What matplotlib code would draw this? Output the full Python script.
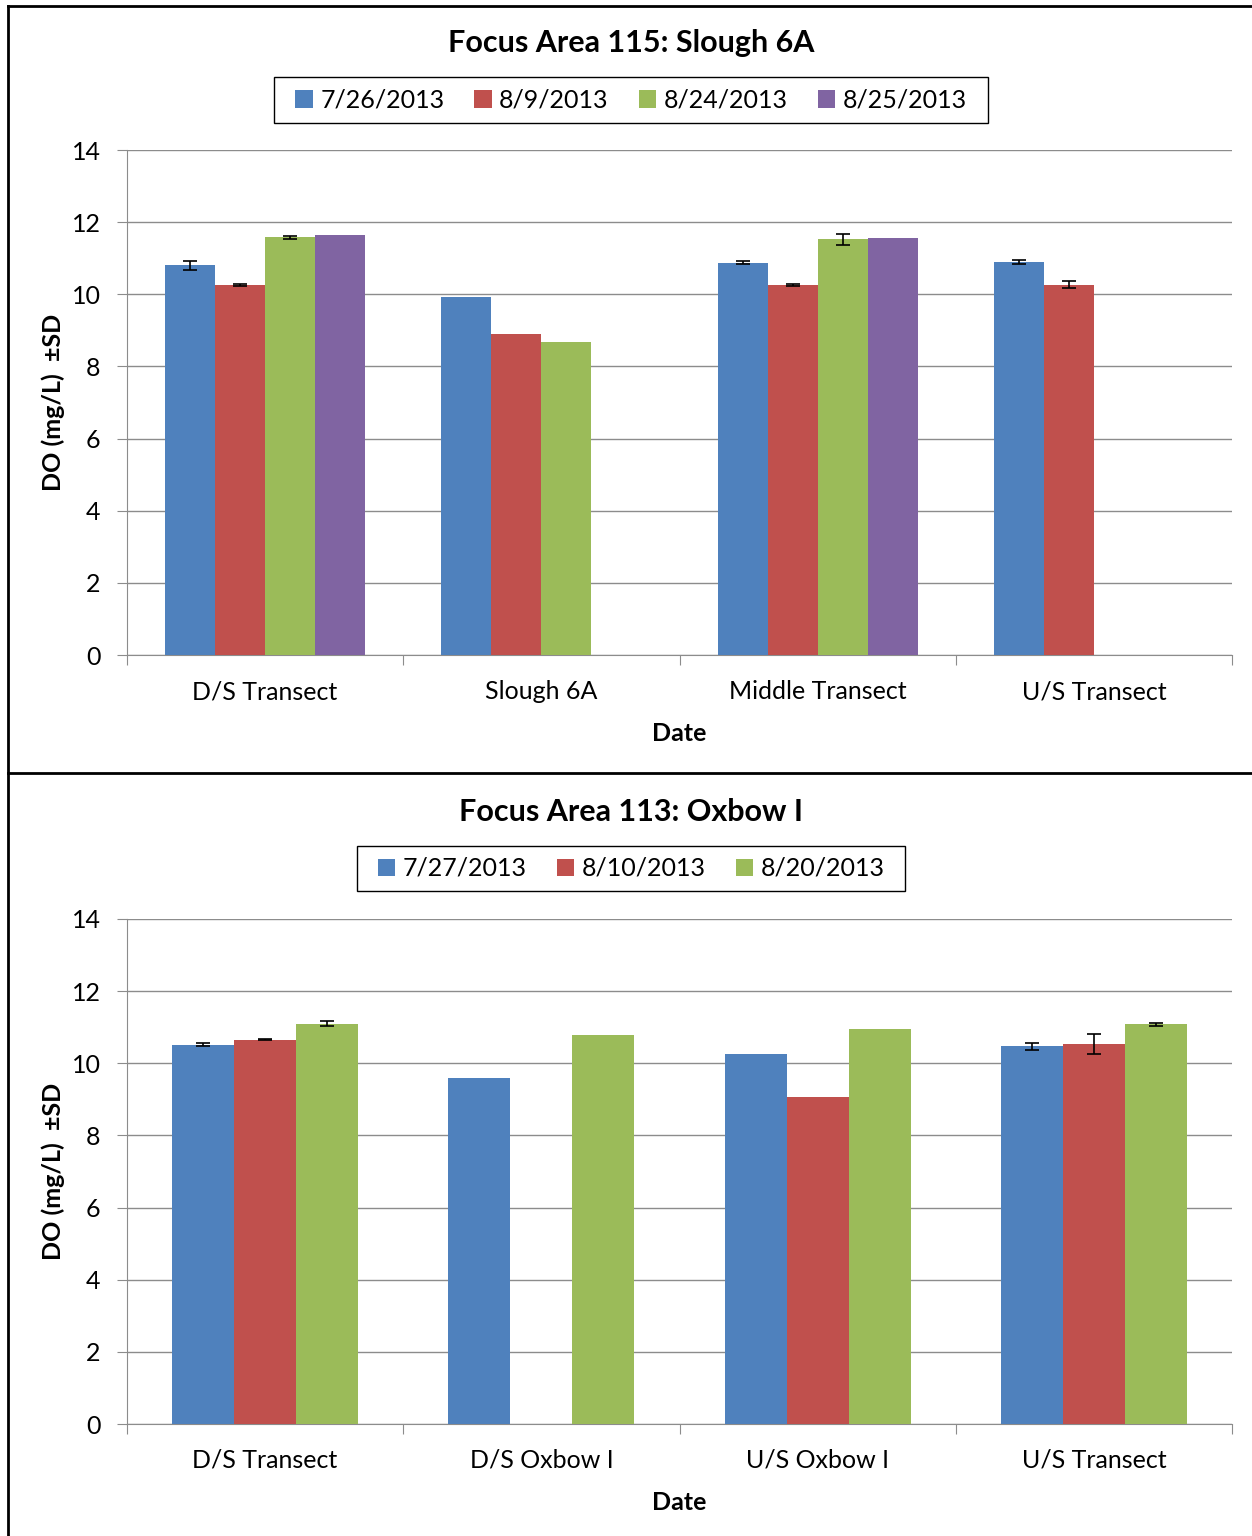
import numpy as np
import matplotlib.pyplot as plt
from matplotlib.lines import Line2D
from matplotlib.patches import Rectangle

plt.rcParams.update({'font.family': "sans-serif",
                     'font.sans-serif': "Lato",
                     'font.size': 16})

# Data input
colors = ["#4F81BD", "#C0504D", "#9BBB59", "#8064A2"]

top_title = "Focus Area 115: Slough 6A"
top_sites = ["D/S Transect", "Slough 6A", "Middle Transect", "U/S Transect"]
top_dates = ["7/26/2013", "8/9/2013", "8/24/2013", "8/25/2013"]
top_means = [
    [10.80, 9.93, 10.88, 10.90],
    [10.26, 8.90, 10.26, 10.27],
    [11.58, 8.68, 11.53, np.nan],
    [11.64, np.nan, 11.56, np.nan],
]
top_sd = [
    [0.13, np.nan, 0.03, 0.06],
    [0.02, np.nan, 0.02, 0.09],
    [0.04, np.nan, 0.15, np.nan],
    [np.nan, np.nan, np.nan, np.nan],
]

bot_title = "Focus Area 113: Oxbow I"
bot_sites = ["D/S Transect", "D/S Oxbow I", "U/S Oxbow I", "U/S Transect"]
bot_dates = ["7/27/2013", "8/10/2013", "8/20/2013"]
bot_means = [
    [10.52, 9.60, 10.25, 10.47],
    [10.65, np.nan, 9.07, 10.53],
    [11.10, 10.78, 10.95, 11.08],
]
bot_sd = [
    [0.04, np.nan, np.nan, 0.09],
    [0.01, np.nan, np.nan, 0.27],
    [0.06, np.nan, np.nan, 0.05],
]

#-------------------------------------------------------------
def draw_panel(ax, sites, dates, means, sds, width):
    x = np.arange(len(sites))
    n = len(dates)
    handles = []
    for i, (date, vals, sd) in enumerate(zip(dates, means, sds)):
        pos = x + (i - (n - 1) / 2) * width
        b = ax.bar(pos, vals, width=width, color=colors[i], label=date,
                   edgecolor="none", zorder=3)
        handles.append(b)
        ax.errorbar(pos, vals, yerr=sd, fmt="none", ecolor="black",
                    elinewidth=1.2, capsize=5, capthick=1.2, zorder=4)
    ax.set_xlim(-0.5, len(sites) - 0.5)
    ax.set_ylim(0, 14)
    ax.set_yticks(np.arange(0, 15, 2))
    ax.yaxis.grid(True, color="#8c8c8c", linewidth=1.0, zorder=0)
    ax.set_axisbelow(True)
    # boundaries as major ticks, names as minor tick labels
    ax.set_xticks(np.arange(-0.5, len(sites), 1.0))
    ax.set_xticklabels([])
    ax.set_xticks(x, minor=True)
    ax.set_xticklabels(sites, minor=True)
    ax.tick_params(axis="x", which="major", length=7, color="#8c8c8c")
    ax.tick_params(axis="x", which="minor", length=0, pad=18, labelsize=18)
    ax.tick_params(axis="y", length=7, color="#8c8c8c", pad=12, labelsize=18)
    for s in ["top", "right"]:
        ax.spines[s].set_visible(False)
    for s in ["left", "bottom"]:
        ax.spines[s].set_color("#8c8c8c")
    ax.set_xlabel("Date", fontweight="bold", fontsize=18, labelpad=14)
    ax.set_ylabel("DO (mg/L)  \u00b1SD", fontweight="bold", fontsize=18, labelpad=5)
    return handles


if __name__ == "__main__":
    W, H = 1252, 1536
    fig = plt.figure(figsize=(W / 100, H / 100), dpi=100)

    ax1 = fig.add_axes([127 / W, 1 - 655 / H, 1105 / W, 505 / H])
    ax2 = fig.add_axes([127 / W, 1 - 1424 / H, 1105 / W, 505 / H])

    h1 = draw_panel(ax1, top_sites, top_dates, top_means, top_sd, 50 / 276)
    h2 = draw_panel(ax2, bot_sites, bot_dates, bot_means, bot_sd, 62 / 276)

    fig.text(631 / W, 1 - 43 / H, top_title, ha="center", va="center",
             fontsize=22, fontweight="bold")
    fig.text(631 / W, 1 - 812 / H, bot_title, ha="center", va="center",
             fontsize=22, fontweight="bold")

    # legends, with a plain frame drawn as its own box
    legend_boxes = [(h1, top_dates, 274, 77, 988, 123), (h2, bot_dates, 357, 846, 905, 891)]
    for handles, labels, x0, y0, x1, y1 in legend_boxes:
        fig.legend(handles, labels, loc="center", ncol=len(labels),
                   bbox_to_anchor=((x0 + x1) / 2 / W, 1 - (y0 + y1) / 2 / H),
                   fontsize=18, frameon=False, handlelength=0.7,
                   handleheight=0.7, handletextpad=0.3, columnspacing=1.2,
                   borderpad=0, borderaxespad=0)
        fig.add_artist(Rectangle((x0 / W, 1 - y1 / H), (x1 - x0) / W, (y1 - y0) / H,
                                 transform=fig.transFigure, fill=False,
                                 edgecolor="black", linewidth=1.0))

    # panel frames
    lw = 2.0
    fig.add_artist(Line2D([8 / W, 1], [1 - 6 / H, 1 - 6 / H], color="black", lw=lw))
    fig.add_artist(Line2D([8 / W, 8 / W], [0, 1 - 6 / H], color="black", lw=lw))
    fig.add_artist(Line2D([8 / W, 1], [1 - 773 / H, 1 - 773 / H], color="black", lw=lw))

    fig.savefig("out.png", dpi=100)
